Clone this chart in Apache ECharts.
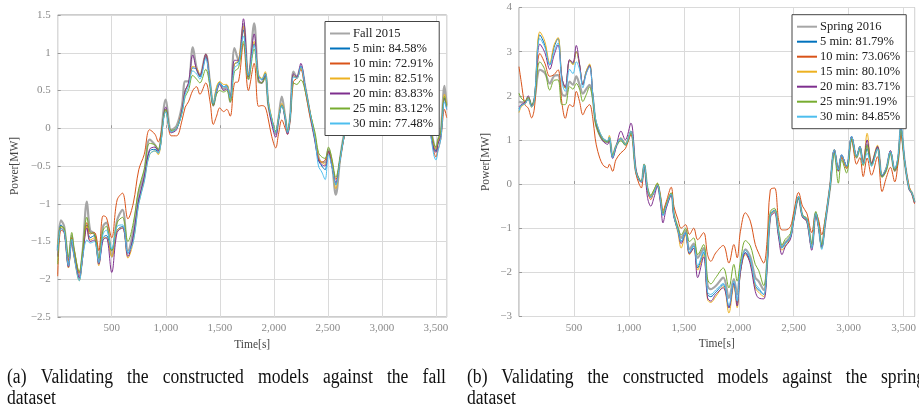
<!DOCTYPE html>
<html>
<head>
<meta charset="utf-8">
<script src="https://cdn.jsdelivr.net/npm/echarts@6/dist/echarts.min.js"></script>
<style>
  html, body { margin: 0; padding: 0; background: #fff; }
  #chart { width: 919px; height: 407px; }
</style>
</head>
<body>
<div id="chart"></div>
<script>
// ---- Fall 2015 validation (time in s, power in MW) ----
const fallTime = [0,30,60,100,130,150,200,230,270,300,
  340,380,420,450,500,550,600,650,700,750,
  800,850,900,930,1000,1050,1100,1150,1180,1210,
  1250,1285,1316,1370,1410,1440,1470,1500,1535,1565,
  1596,1636,1673,1719,1765,1818,1858,1889,1920,1950,
  1981,2018,2043,2074,2105,2127,2151,2182,2213,2250,
  2290,2336,2382,2413,2444,2475,2506,2537,2574,2614,
  2654,2700,2800,2900,3000,3100,3200,3300,3400,3440,
  3480,3500,3520,3545,3580,3600];
const fallMeasured = [-1.62,-1.22,-1.3,-1.78,-1.42,-1.62,-1.95,-1.65,-0.97,-1.35,
  -1.4,-1.72,-1.3,-1.25,-1.7,-1.22,-1.08,-1.62,-1.35,-0.85,
  -0.6,-0.15,-0.22,-0.3,0.38,-0.02,0.03,0.3,0.62,0.62,
  1.07,0.8,0.7,0.98,0.6,0.3,0.5,0.6,0.52,0.55,
  0.35,1.06,0.9,1.38,0.65,1.39,0.62,0.6,0.72,0.3,
  0.1,-0.08,0.12,0.42,0.15,-0.05,0.15,0.75,0.68,0.82,
  0.55,0.18,-0.15,-0.38,-0.45,-0.45,-0.28,-0.45,-0.88,-0.4,
  -0.05,0.2,0.45,0.7,0.4,0.75,0.5,0.3,0.2,0.05,
  -0.2,-0.3,-0.15,-0.05,0.56,0.3];
const fall5 = [-1.58,-1.28,-1.35,-1.82,-1.48,-1.66,-2.0,-1.7,-1.28,-1.45,
  -1.42,-1.78,-1.45,-1.42,-1.62,-1.35,-1.3,-1.66,-1.45,-0.95,
  -0.68,-0.3,-0.28,-0.33,0.25,-0.05,0.0,0.22,0.5,0.58,
  0.8,0.78,0.68,0.95,0.6,0.32,0.52,0.6,0.55,0.57,
  0.42,0.85,0.88,1.3,0.7,1.12,0.7,0.64,0.73,0.33,
  0.12,-0.05,0.12,0.31,0.15,-0.05,0.15,0.7,0.66,0.82,
  0.55,0.2,-0.15,-0.42,-0.5,-0.55,-0.3,-0.48,-0.75,-0.4,
  -0.08,0.18,0.42,0.65,0.38,0.7,0.48,0.28,0.18,0.02,
  -0.25,-0.3,-0.2,-0.1,0.4,0.28];
const fall10 = [-1.96,-1.35,-1.38,-1.75,-1.45,-1.6,-1.92,-1.68,-1.25,-1.4,
  -1.38,-1.62,-1.16,-1.18,-1.45,-0.95,-0.86,-1.2,-0.99,-0.55,
  -0.35,-0.02,-0.08,-0.18,0.22,-0.1,-0.1,0.1,0.28,0.35,
  0.5,0.55,0.45,0.6,0.35,0.05,0.16,0.27,0.22,0.25,
  0.16,0.6,0.62,1.12,0.5,0.86,0.29,0.3,0.28,0.11,
  -0.11,-0.26,-0.08,0.11,0.0,-0.08,0.12,0.62,0.66,0.78,
  0.5,0.15,-0.15,-0.4,-0.45,-0.42,-0.32,-0.45,-0.68,-0.42,
  -0.1,0.1,0.35,0.55,0.3,0.6,0.4,0.22,0.12,-0.02,
  -0.3,-0.38,-0.28,-0.15,0.25,0.14];
const fall15 = [-1.55,-1.3,-1.36,-1.85,-1.5,-1.7,-2.02,-1.72,-1.3,-1.48,
  -1.45,-1.82,-1.45,-1.45,-1.7,-1.35,-1.32,-1.72,-1.5,-1.0,
  -0.7,-0.35,-0.3,-0.35,0.25,-0.05,0.0,0.25,0.5,0.58,
  0.82,0.8,0.7,0.98,0.62,0.34,0.55,0.62,0.58,0.58,
  0.42,0.85,0.9,1.35,0.72,1.15,0.72,0.66,0.75,0.36,
  0.14,-0.05,0.14,0.33,0.16,-0.04,0.16,0.7,0.66,0.8,
  0.56,0.22,-0.12,-0.4,-0.45,-0.48,-0.3,-0.45,-0.8,-0.42,
  -0.08,0.18,0.44,0.66,0.4,0.72,0.5,0.3,0.2,0.04,
  -0.22,-0.28,-0.18,-0.08,0.45,0.3];
const fall20 = [-1.7,-1.32,-1.38,-1.84,-1.5,-1.68,-1.98,-1.72,-1.32,-1.5,
  -1.48,-1.8,-1.48,-1.45,-1.91,-1.38,-1.32,-1.7,-1.42,-0.95,
  -0.65,-0.28,-0.25,-0.3,0.28,-0.06,-0.02,0.25,0.5,0.6,
  0.97,0.78,0.7,0.98,0.58,0.3,0.48,0.58,0.5,0.52,
  0.4,0.9,0.9,1.45,0.68,1.25,0.65,0.6,0.7,0.3,
  0.05,-0.12,0.1,0.3,0.12,-0.08,0.14,0.72,0.68,0.86,
  0.55,0.2,-0.18,-0.42,-0.48,-0.5,-0.3,-0.5,-0.72,-0.4,
  -0.08,0.16,0.42,0.66,0.38,0.72,0.48,0.28,0.18,0.02,
  -0.28,-0.32,-0.2,-0.1,0.4,0.25];
const fall25 = [-1.8,-1.3,-1.32,-1.7,-1.38,-1.58,-1.9,-1.62,-1.18,-1.38,
  -1.4,-1.72,-1.35,-1.3,-1.62,-1.25,-1.18,-1.5,-1.25,-0.8,
  -0.55,-0.2,-0.22,-0.28,0.25,-0.03,0.0,0.2,0.42,0.5,
  0.7,0.65,0.6,0.78,0.55,0.3,0.45,0.5,0.48,0.5,
  0.35,0.75,0.8,1.15,0.65,1.05,0.62,0.6,0.68,0.3,
  0.12,-0.04,0.12,0.3,0.15,-0.04,0.14,0.6,0.58,0.64,
  0.5,0.2,-0.06,-0.32,-0.38,-0.4,-0.25,-0.4,-0.65,-0.38,
  -0.06,0.2,0.4,0.6,0.38,0.65,0.46,0.28,0.2,0.05,
  -0.2,-0.25,-0.15,-0.05,0.42,0.28];
const fall30 = [-1.62,-1.33,-1.36,-1.82,-1.47,-1.68,-2.02,-1.72,-1.48,-1.52,
  -1.5,-1.78,-1.4,-1.35,-1.6,-1.3,-1.28,-1.65,-1.5,-1.0,
  -0.72,-0.35,-0.3,-0.33,0.22,-0.05,0.0,0.2,0.45,0.55,
  0.76,0.72,0.65,0.92,0.6,0.33,0.5,0.6,0.55,0.55,
  0.4,0.8,0.85,1.22,0.7,1.1,0.7,0.65,0.72,0.34,
  0.12,-0.06,0.12,0.3,0.15,-0.06,0.15,0.68,0.66,0.82,
  0.55,0.2,-0.15,-0.5,-0.58,-0.68,-0.35,-0.5,-0.75,-0.42,
  -0.08,0.15,0.4,0.62,0.36,0.68,0.45,0.25,0.15,0.0,
  -0.35,-0.42,-0.3,-0.15,0.35,0.25];

// ---- Spring 2016 validation ----
const springTime = [0,20,54,84,115,139,190,235,280,319,
  355,391,421,461,491,521,551,581,611,642,
  672,693,717,762,807,822,852,882,928,967,
  1018,1063,1093,1114,1139,1169,1199,1229,1259,1289,
  1310,1340,1385,1410,1446,1476,1515,1551,1590,1626,
  1680,1716,1745,1790,1859,1910,1955,1985,2015,2060,
  2105,2150,2180,2227,2257,2287,2326,2362,2393,2423,
  2470,2498,2544,2580,2619,2664,2701,2725,2755,2785,
  2830,2870,2906,2936,2981,3027,3072,3102,3132,3168,
  3208,3262,3304,3343,3380,3419,3449,3475,3510,3550,
  3575,3600];
const springMeasured = [1.87,1.85,1.85,1.95,1.78,1.9,2.59,2.52,2.28,2.45,
  2.47,2.04,2.0,2.32,2.25,2.44,2.25,2.05,2.15,2.25,
  1.95,1.45,1.22,1.0,0.95,1.05,0.62,0.85,1.02,0.9,
  1.18,0.3,0.1,0.06,0.44,-0.1,-0.28,-0.17,-0.02,-0.36,
  -0.68,-0.48,-0.22,-0.7,-1.0,-1.22,-1.05,-1.48,-1.35,-1.67,
  -1.45,-2.3,-2.38,-2.31,-2.12,-2.58,-2.15,-2.5,-1.9,-1.48,
  -1.65,-2.12,-2.2,-2.4,-1.8,-0.7,-0.6,-1.1,-1.42,-1.32,
  -1.18,-0.8,-0.3,-0.72,-0.8,-1.4,-0.65,-0.92,-1.42,-0.9,
  -0.08,0.75,0.3,0.62,0.38,1.05,0.6,0.82,0.45,0.9,
  0.45,0.82,0.18,0.35,0.72,0.3,0.55,1.25,0.5,-0.1,
  -0.2,-0.42];
const spring5 = [1.7,1.78,1.82,1.92,1.75,1.9,3.38,3.15,2.7,3.1,
  3.3,2.4,2.17,2.8,2.72,3.0,2.7,2.25,2.55,2.7,
  2.02,1.5,1.27,1.04,0.97,1.06,0.6,0.85,1.04,0.9,
  1.2,0.3,0.1,0.05,0.44,-0.1,-0.3,-0.18,0.0,-0.38,
  -0.7,-0.5,-0.22,-0.73,-1.05,-1.3,-1.1,-1.55,-1.4,-1.9,
  -1.55,-2.5,-2.55,-2.45,-2.28,-2.8,-2.25,-2.7,-1.95,-1.55,
  -1.75,-2.3,-2.4,-2.5,-1.85,-0.7,-0.6,-1.11,-1.45,-1.35,
  -1.2,-0.82,-0.28,-0.73,-0.81,-1.45,-0.66,-0.95,-1.45,-0.89,
  -0.05,0.78,0.32,0.66,0.4,1.08,0.63,0.85,0.47,0.8,
  0.47,0.85,0.17,0.36,0.74,0.32,0.6,1.3,0.52,-0.1,
  -0.2,-0.4];
const spring10 = [2.66,2.32,1.8,1.72,1.5,1.7,2.96,2.74,2.44,2.48,
  2.59,1.83,1.49,1.8,1.75,2.1,1.87,1.57,1.72,1.8,
  1.48,1.04,0.74,0.44,0.37,0.45,0.29,0.55,0.71,0.8,
  1.12,0.25,0.0,-0.09,0.4,-0.15,-0.35,-0.15,0.0,-0.3,
  -0.6,-0.4,-0.07,-0.51,-0.8,-1.0,-0.92,-1.14,-1.0,-1.26,
  -1.1,-1.6,-1.75,-1.56,-1.39,-1.79,-1.37,-1.67,-1.07,-0.65,
  -0.84,-1.37,-1.56,-1.79,-1.3,-0.13,-0.09,-0.81,-1.04,-1.04,
  -0.96,-0.66,-0.19,-0.5,-0.66,-1.1,-0.66,-0.8,-1.15,-0.8,
  -0.02,0.78,0.35,0.6,0.35,1.0,0.45,0.6,0.17,0.59,
  0.2,0.62,-0.17,0.15,0.38,0.05,0.48,1.1,0.5,-0.05,
  -0.22,-0.45];
const spring15 = [1.62,1.75,1.82,1.92,1.74,1.9,3.45,3.23,2.74,3.15,
  3.32,2.4,2.17,2.81,2.7,3.0,2.7,2.25,2.55,2.72,
  2.02,1.52,1.3,1.05,0.98,1.1,0.62,0.87,1.05,0.92,
  1.2,0.32,0.12,0.06,0.45,-0.08,-0.28,-0.15,0.02,-0.36,
  -0.68,-0.48,-0.2,-0.73,-1.1,-1.45,-1.15,-1.6,-1.45,-1.95,
  -1.6,-2.62,-2.68,-2.55,-2.32,-2.92,-2.3,-2.8,-2.0,-1.6,
  -1.78,-2.35,-2.45,-2.55,-1.9,-0.72,-0.62,-1.15,-1.5,-1.4,
  -1.22,-0.83,-0.3,-0.75,-0.83,-1.45,-0.68,-0.95,-1.45,-0.9,
  -0.06,0.76,0.3,0.64,0.38,1.06,0.62,0.86,0.48,1.15,
  0.48,0.88,0.2,0.38,0.75,0.32,0.6,1.28,0.5,-0.08,
  -0.2,-0.4];
const spring20 = [1.75,1.8,1.85,2.0,1.78,1.92,3.17,2.98,2.6,2.92,
  3.15,2.4,2.2,2.82,2.75,3.14,2.72,2.25,2.5,2.68,
  2.0,1.45,1.22,0.98,0.9,1.0,0.58,0.82,1.2,1.0,
  1.38,0.35,0.1,0.04,0.42,-0.3,-0.5,-0.3,-0.05,-0.45,
  -0.88,-0.55,-0.25,-0.75,-1.05,-1.35,-1.12,-1.58,-1.45,-2.12,
  -1.65,-2.58,-2.65,-2.5,-2.35,-2.8,-2.24,-2.76,-2.0,-1.56,
  -1.82,-2.43,-2.58,-2.6,-1.9,-0.75,-0.65,-1.2,-1.6,-1.42,
  -1.25,-0.85,-0.33,-0.75,-0.85,-1.5,-0.7,-0.98,-1.42,-0.92,
  -0.08,0.75,0.3,0.66,0.4,1.08,0.63,0.85,0.47,1.0,
  0.47,0.85,0.18,0.36,0.76,0.3,0.58,1.25,0.5,-0.12,
  -0.22,-0.42];
const spring25 = [2.06,1.95,1.88,1.97,1.8,1.92,2.77,2.59,2.13,2.35,
  2.36,1.8,1.8,2.21,2.15,2.28,2.15,1.87,2.02,2.2,
  1.9,1.42,1.2,1.0,0.95,1.02,0.65,0.85,0.98,0.88,
  1.15,0.3,0.12,0.06,0.44,-0.08,-0.25,-0.12,0.02,-0.34,
  -0.66,-0.46,-0.2,-0.68,-0.98,-1.15,-1.0,-1.3,-1.22,-1.6,
  -1.37,-2.15,-2.26,-2.12,-1.9,-2.35,-1.82,-2.2,-1.75,-1.28,
  -1.4,-1.82,-1.95,-2.3,-1.75,-0.62,-0.55,-1.05,-1.38,-1.25,
  -1.12,-0.78,-0.32,-0.7,-0.78,-1.35,-0.62,-0.9,-1.38,-0.85,
  -0.1,0.7,0.02,0.55,0.25,1.02,0.6,0.8,0.42,0.88,
  0.42,0.8,0.15,0.3,0.7,0.3,0.55,1.22,0.48,-0.1,
  -0.2,-0.4];
const spring30 = [1.65,1.78,1.82,1.92,1.75,1.9,3.3,3.1,2.7,3.0,
  3.2,2.3,2.1,2.6,2.5,2.77,2.6,2.18,2.5,2.65,
  2.02,1.52,1.3,1.05,0.98,1.06,0.6,0.85,1.04,0.9,
  1.2,0.3,0.1,0.05,0.44,-0.1,-0.3,-0.18,-0.02,-0.38,
  -0.72,-0.5,-0.22,-0.73,-1.05,-1.3,-1.1,-1.55,-1.4,-1.85,
  -1.5,-2.45,-2.5,-2.4,-2.25,-2.75,-2.2,-2.65,-1.9,-1.5,
  -1.7,-2.25,-2.35,-2.5,-1.85,-0.7,-0.6,-1.1,-1.45,-1.35,
  -1.2,-0.82,-0.28,-0.73,-0.8,-1.45,-0.66,-0.95,-1.48,-0.9,
  -0.05,0.78,0.32,0.66,0.4,1.08,0.63,0.85,0.45,0.7,
  0.4,0.8,0.2,0.38,0.74,0.35,0.62,1.34,0.52,-0.1,
  -0.2,-0.4];

// Legend labels
const fallNames = ['Fall 2015', '5 min: 84.58%', '10 min: 72.91%', '15 min: 82.51%',
  '20 min: 83.83%', '25 min: 83.12%', '30 min: 77.48%'];
const springNames = ['Spring 2016', '5 min: 81.79%', '10 min: 73.06%', '15 min: 80.10%',
  '20 min: 83.71%', '25 min:91.19%', '30 min: 84.85%'];

// Axis ticks
const xTicks = [500, 1000, 1500, 2000, 2500, 3000, 3500];

const COLORS = ['#a6a6a6', '#0072bd', '#d95319', '#edb120', '#7e2f8e', '#77ac30', '#4dbeee'];
const SERIF = '"Liberation Serif", "Times New Roman", serif';

const fallValues = [fallMeasured, fall5, fall10, fall15, fall20, fall25, fall30];
const springValues = [springMeasured, spring5, spring10, spring15, spring20, spring25, spring30];

function buildSeries(times, valueSets, names, axisIndex) {
  return valueSets.map((vals, k) => ({
    name: names[k],
    type: 'line',
    xAxisIndex: axisIndex,
    yAxisIndex: axisIndex,
    data: times.map((t, i) => [t, vals[i]]),
    symbol: 'none',
    smooth: 0.35,
    z: 2 + k * 0.01,
    lineStyle: { color: COLORS[k], width: k === 0 ? 2.2 : 1 },
    itemStyle: { color: COLORS[k] },
    animation: false
  }));
}

const minus = v => String(v).replace('-', '\u2212');

function xAxisFor(gridIndex) {
  return {
    type: 'value', gridIndex, min: 0, max: 3600, interval: 500,
    name: 'Time[s]', nameLocation: 'middle', nameGap: 20,
    nameTextStyle: { fontFamily: SERIF, fontSize: 11.5, color: '#444' },
    axisLine: { show: false },
    axisTick: { show: true, inside: true, length: 3, lineStyle: { color: '#999' } },
    axisLabel: {
      fontFamily: SERIF, fontSize: 11, color: '#8a8a8a', margin: 6,
      showMinLabel: false, showMaxLabel: false,
      formatter: v => (xTicks.includes(v) ? v.toLocaleString('en-US') : '')
    },
    splitLine: { show: true, lineStyle: { color: '#dadada', width: 1 } }
  };
}

function yAxisFor(gridIndex, min, max, gap) {
  return {
    type: 'value', gridIndex, min, max, interval: gridIndex === 0 ? 0.5 : 1,
    name: 'Power[MW]', nameLocation: 'middle', nameGap: gap, nameRotate: 90,
    nameTextStyle: { fontFamily: SERIF, fontSize: 11.5, color: '#444' },
    axisLine: { show: false },
    axisTick: { show: true, inside: true, length: 3, lineStyle: { color: '#999' } },
    axisLabel: { fontFamily: SERIF, fontSize: 11, color: '#8a8a8a', margin: 7, formatter: minus },
    splitLine: { show: true, lineStyle: { color: '#dadada', width: 1 } }
  };
}

function legendFor(names, left, top) {
  return {
    data: names, orient: 'vertical', left, top,
    icon: 'rect', itemWidth: 20, itemHeight: 2, itemGap: 1,
    padding: [5, 6, 5, 5],
    backgroundColor: '#ffffff', borderColor: '#444', borderWidth: 1,
    textStyle: { fontFamily: SERIF, fontSize: 12.5, color: '#222', lineHeight: 14, padding: [0, 0, 0, -2] },
    selectedMode: false, z: 10
  };
}

// Captions are justified word by word across their column
const CAP = 20;
const CAP_SCALE = 0.88;
const measureCtx = document.createElement('canvas').getContext('2d');
function word(text, x, y) {
  return { type: 'text', x, y, scaleX: CAP_SCALE,
    style: { text, fontSize: CAP, fontFamily: SERIF, fill: '#111', verticalAlign: 'middle' } };
}
function justified(text, x0, x1, y) {
  const words = text.split(' ');
  measureCtx.font = CAP + 'px ' + SERIF;
  const widths = words.map(w => measureCtx.measureText(w).width * CAP_SCALE);
  const total = widths.reduce((a, b) => a + b, 0);
  const gap = (x1 - x0 - total) / (words.length - 1);
  let x = x0;
  return words.map((w, i) => {
    const el = word(w, x, y);
    x += widths[i] + gap;
    return el;
  });
}

const graphics = [].concat(
  justified('(a) Validating the constructed models against the fall', 7, 446, 378),
  [word('dataset', 7, 399)],
  justified('(b) Validating the constructed models against the spring', 467, 925, 378),
  [word('dataset', 467, 399)]
);

const chart = echarts.init(document.getElementById('chart'), null, { renderer: 'canvas' });
chart.setOption({
  animation: false,
  backgroundColor: '#ffffff',
  grid: [
    { left: 57.7, top: 15, width: 389, height: 302, show: true, borderColor: '#9a9a9a', borderWidth: 1, backgroundColor: 'transparent' },
    { left: 519, top: 7.5, width: 398, height: 309, show: true, borderColor: '#9a9a9a', borderWidth: 1, backgroundColor: 'transparent' }
  ],
  xAxis: [xAxisFor(0), xAxisFor(1)],
  yAxis: [yAxisFor(0, -2.5, 1.5, 37), yAxisFor(1, -3, 4, 27)],
  legend: [legendFor(fallNames, 325, 21.5), legendFor(springNames, 792, 14.7)],
  series: [].concat(
    buildSeries(fallTime, fallValues, fallNames, 0),
    buildSeries(springTime, springValues, springNames, 1)
  ),
  graphic: graphics
});
</script>
</body>
</html>
